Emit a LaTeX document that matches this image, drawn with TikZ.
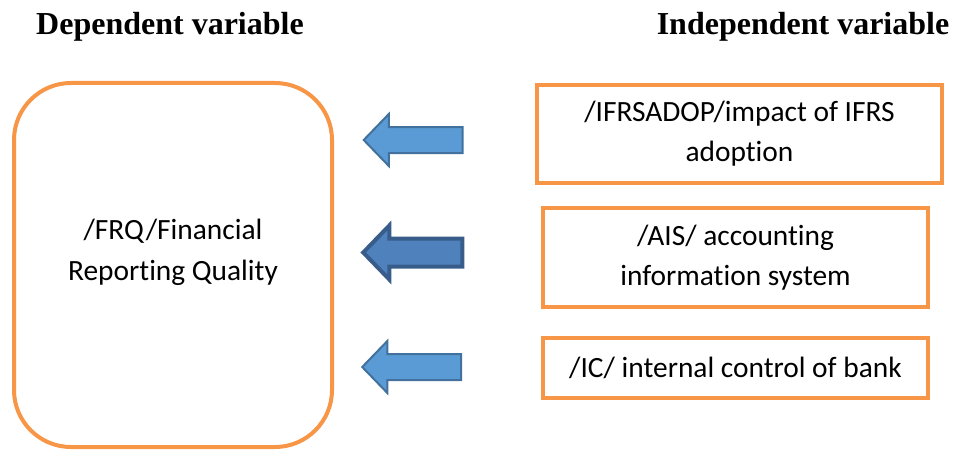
\documentclass[tikz,border=0pt]{standalone}
\usepackage{fontspec}
\setmainfont{Liberation Serif}
\newfontfamily\boxfont[Ligatures=NoCommon]{Carlito}
\usetikzlibrary{shapes.arrows}
\definecolor{boxorange}{HTML}{F79646}
\definecolor{arrowfill}{HTML}{5B9BD5}
\definecolor{arrowline}{HTML}{41719C}
\definecolor{darkfill}{HTML}{4F81BD}
\definecolor{darkline}{HTML}{385D8A}
\begin{document}
\begin{tikzpicture}[x=0.5pt,y=-0.5pt,
    heading/.style={font=\bfseries\fontsize{16}{19}\selectfont,anchor=base,inner sep=0pt},
    varbox/.style={draw=boxorange,line width=2pt,align=center,inner sep=0pt,
      font=\boxfont\fontsize{14.7}{20}\selectfont},
    boxtext/.style={align=center,inner sep=0pt,font=\boxfont\fontsize{14.7}{20.5}\selectfont},
    blockarrow/.style={single arrow,rotate=180,draw=arrowline,fill=arrowfill,line width=1pt,
      minimum height=49.5pt,minimum width=25pt,inner xsep=0pt,inner ysep=6pt,
      single arrow head extend=6.5pt,single arrow tip angle=92}]
  \useasboundingbox (0,0) rectangle (956,449);
  \node[heading] (dep) at (170,35) {Dependent variable};
  \node[heading] (indep) at (803,35) {Independent variable};
  \node[varbox,rounded corners=28.5pt,minimum width=159pt,minimum height=182pt] (frq) at (173,265) {};
  \node[boxtext] (frqtext) at (173,252) {/FRQ/Financial\\Reporting Quality};
  \node[varbox,minimum width=202.5pt,minimum height=49pt] (ifrs) at (739.5,134) {/IFRSADOP/impact of IFRS\\adoption};
  \node[varbox,minimum width=192.5pt,minimum height=49.5pt] (ais) at (735.5,257.5) {/AIS/ accounting\\information system};
  \node[varbox,minimum width=192.5pt,minimum height=30pt] (ic) at (735.5,368) {/IC/ internal control of bank};
  \begin{scope}
    \node[blockarrow] (a1) at (419.5,140) {};
    \node[blockarrow,draw=darkline,fill=darkfill,line width=2pt] (a2) at (419.5,252.5) {};
    \node[blockarrow] (a3) at (418,367) {};
  \end{scope}
\end{tikzpicture}
\end{document}
